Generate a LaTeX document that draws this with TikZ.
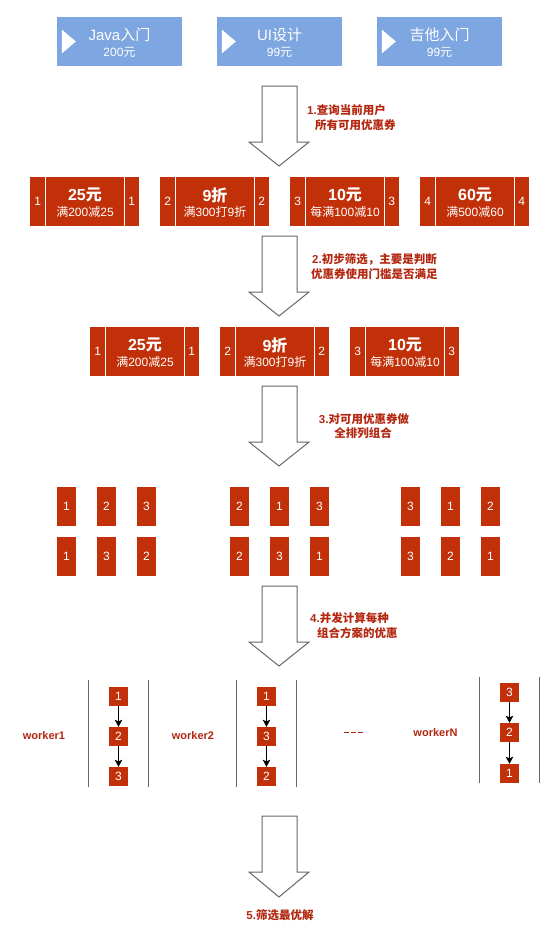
\documentclass[tikz,border=0pt]{standalone}
\usepackage{fontspec}
\setmainfont{Liberation Sans}
\newfontfamily\cjk{Noto Sans CJK SC}
\usetikzlibrary{arrows.meta,calc}
\definecolor{topblue}{HTML}{7EA6E0}
\definecolor{cred}{RGB}{193,48,8}
\definecolor{labred}{RGB}{180,40,18}
\definecolor{agray}{HTML}{666666}
\newcommand\fs[1]{\fontsize{#1}{#1}\selectfont}
\newcommand\mycoupon[6]{%
  \node[cpn] (#1) at (#2+54.5,#3+24.5) {};
  \draw[sepline] ([xshift=15.5pt]#1.north west) -- ([xshift=15.5pt]#1.south west);
  \draw[sepline] ([xshift=-15pt]#1.north east) -- ([xshift=-15pt]#1.south east);
  \node[cnum] (#1l) at ([xshift=8pt]#1.west) {#4};
  \node[cnum] (#1r) at ([xshift=-7.5pt]#1.east) {#4};
  \node[cbig] (#1b) at ([xshift=0.5pt,yshift=6.5pt]#1.center) {#5};
  \node[csmall] (#1s) at ([xshift=0.5pt,yshift=-10.5pt]#1.center) {#6};
}
\newcommand\myblockarrow[1]{%
  \draw[barrow] (262,#1) -- (297,#1) -- (297,#1+56) -- (309,#1+56) -- (279,#1+80) -- (249,#1+56) -- (262,#1+56) -- cycle;
}
\newcommand\mytopbox[4]{%
  \node[topbox] (#1) at (#2,41.5) {};
  \fill[white] ([xshift=5pt,yshift=12pt]#1.west) -- ([xshift=19pt]#1.west) -- ([xshift=5pt,yshift=-12pt]#1.west) -- cycle;
  \node[toptxt] (#1m) at ([yshift=6.5pt]#1.center) {#3};
  \node[topsub] (#1s) at ([yshift=-10.5pt]#1.center) {#4};
}
\begin{document}
\begin{tikzpicture}[x=1pt,y=-1pt,
  topbox/.style={fill=topblue, draw=none, minimum width=125pt, minimum height=49pt, inner sep=0pt},
  toptxt/.style={text=white, inner sep=0pt, font=\fs{15}},
  topsub/.style={text=white, inner sep=0pt, font=\fs{12}},
  cpn/.style={fill=cred, draw=none, minimum width=109pt, minimum height=49pt, inner sep=0pt},
  sepline/.style={white, line width=1pt},
  cnum/.style={text=white, font=\fs{12}, inner sep=0pt},
  cbig/.style={text=white, font=\bfseries\fs{16}, inner sep=0pt},
  csmall/.style={text=white, font=\fs{12}, inner sep=0pt},
  perm/.style={fill=cred, minimum width=19pt, minimum height=39pt, inner sep=0pt, text=white, font=\fs{12}},
  wbox/.style={fill=cred, minimum width=19pt, minimum height=19pt, inner sep=0pt, text=white, font=\fs{12}},
  warr/.style={-{Stealth[length=7pt,width=7.5pt,inset=1.5pt]}, black, line width=0.9pt},
  barrow/.style={draw=agray, fill=white, line width=1pt, line join=miter},
  lbl/.style={text=labred, font=\bfseries\fs{11.5}, inner sep=0pt},
  wlbl/.style={text=labred, font=\bfseries\fs{11}, inner sep=0pt},
  vline/.style={draw=agray, line width=1pt}
]
\fill[white] (0,0) rectangle (559,943);
\useasboundingbox (0,0) rectangle (559,943);

% top course boxes
\mytopbox{t1}{119.5}{Java{\cjk 入门}}{200{\cjk 元}}
\mytopbox{t2}{279.5}{UI{\cjk 设计}}{99{\cjk 元}}
\mytopbox{t3}{439.5}{{\cjk 吉他入门}}{99{\cjk 元}}

% block arrows
\myblockarrow{86}
\myblockarrow{236}
\myblockarrow{386}
\myblockarrow{586}
\draw[barrow] (262,816) -- (297,816) -- (297,872) -- (309,872) -- (279,897) -- (249,872) -- (262,872) -- cycle;

% step labels
\node[lbl, anchor=west] (l1a) at (307,110) {1.{\cjk 查询当前用户}};
\node[lbl, anchor=west] (l1b) at (315,125) {{\cjk 所有可用优惠券}};
\node[lbl, anchor=west] (l2a) at (312,259.3) {2.{\cjk 初步筛选，主要是判断}};
\node[lbl, anchor=west] (l2b) at (311,274.3) {{\cjk 优惠券使用门槛是否满足}};
\node[lbl] (l3a) at (364,419.3) {3.{\cjk 对可用优惠券做}};
\node[lbl] (l3b) at (363,433.3) {{\cjk 全排列组合}};
\node[lbl, anchor=west] (l4a) at (310,618) {4.{\cjk 并发计算每种}};
\node[lbl, anchor=west] (l4b) at (317,633) {{\cjk 组合方案的优惠}};
\node[lbl] (l5) at (280,915) {5.{\cjk 筛选最优解}};

% coupons row 1
\mycoupon{c1}{30}{177}{1}{25{\cjk 元}}{{\cjk 满}200{\cjk 减}25}
\mycoupon{c2}{160}{177}{2}{9{\cjk 折}}{{\cjk 满}300{\cjk 打}9{\cjk 折}}
\mycoupon{c3}{290}{177}{3}{10{\cjk 元}}{{\cjk 每满}100{\cjk 减}10}
\mycoupon{c4}{420}{177}{4}{60{\cjk 元}}{{\cjk 满}500{\cjk 减}60}

% coupons row 2
\mycoupon{d1}{90}{327}{1}{25{\cjk 元}}{{\cjk 满}200{\cjk 减}25}
\mycoupon{d2}{220}{327}{2}{9{\cjk 折}}{{\cjk 满}300{\cjk 打}9{\cjk 折}}
\mycoupon{d3}{350}{327}{3}{10{\cjk 元}}{{\cjk 每满}100{\cjk 减}10}

% permutations
\node[perm] (pa1) at (66.5,506.5) {1};
\node[perm] (pa2) at (106.5,506.5) {2};
\node[perm] (pa3) at (146.5,506.5) {3};
\node[perm] (pb1) at (66.5,556.5) {1};
\node[perm] (pb2) at (106.5,556.5) {3};
\node[perm] (pb3) at (146.5,556.5) {2};
\node[perm] (pc1) at (239.5,506.5) {2};
\node[perm] (pc2) at (279.5,506.5) {1};
\node[perm] (pc3) at (319.5,506.5) {3};
\node[perm] (pd1) at (239.5,556.5) {2};
\node[perm] (pd2) at (279.5,556.5) {3};
\node[perm] (pd3) at (319.5,556.5) {1};
\node[perm] (pe1) at (410.5,506.5) {3};
\node[perm] (pe2) at (450.5,506.5) {1};
\node[perm] (pe3) at (490.5,506.5) {2};
\node[perm] (pf1) at (410.5,556.5) {3};
\node[perm] (pf2) at (450.5,556.5) {2};
\node[perm] (pf3) at (490.5,556.5) {1};

% workers
\draw[vline] (88,680) -- (88,787);
\draw[vline] (148,680) -- (148,787);
\draw[vline] (236,680) -- (236,787);
\draw[vline] (296,680) -- (296,787);
\draw[vline] (479,677) -- (479,783);
\draw[vline] (539,677) -- (539,783);

\node[wlbl] (w1) at (44,735.7) {worker1};
\node[wlbl] (w2) at (193,735.7) {worker2};
\node[wlbl] (wn) at (435.5,732.7) {workerN};
\draw[labred, line width=1.8pt, dash pattern=on 4.5pt off 2.5pt] (344,732.5) -- (363,732.5);

\node[wbox] (a1) at (118.5,696.5) {1};
\node[wbox] (a2) at (118.5,736.5) {2};
\node[wbox] (a3) at (118.5,776.5) {3};
\node[wbox] (b1) at (266.5,696.5) {1};
\node[wbox] (b2) at (266.5,736.5) {3};
\node[wbox] (b3) at (266.5,776.5) {2};
\node[wbox] (n1) at (509.5,692.5) {3};
\node[wbox] (n2) at (509.5,732.5) {2};
\node[wbox] (n3) at (509.5,773.5) {1};
\draw[warr] (a1) -- (a2);
\draw[warr] (a2) -- (a3);
\draw[warr] (b1) -- (b2);
\draw[warr] (b2) -- (b3);
\draw[warr] (n1) -- (n2);
\draw[warr] (n2) -- (n3);
\end{tikzpicture}
\end{document}
